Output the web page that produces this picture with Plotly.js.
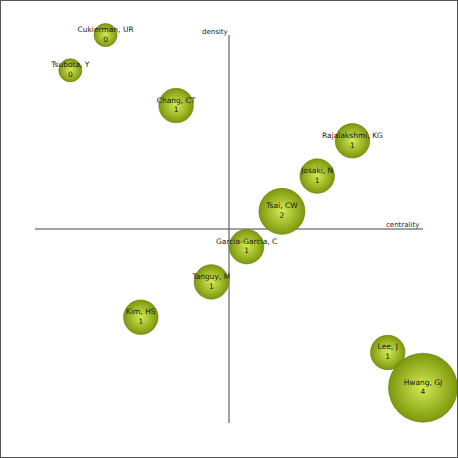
<!DOCTYPE html>
<html>
<head>
<meta charset="utf-8">
<script src="https://cdn.plot.ly/plotly-3.0.1.min.js"></script>
<style>
html,body{margin:0;padding:0;background:#fff;}
#wrap{position:relative;width:458px;height:458px;}
#chart{width:458px;height:458px;}
#frame{position:absolute;left:0;top:0;width:456px;height:456px;border:1px solid #555;pointer-events:none;}
</style>
</head>
<body>
<div id="wrap"><div id="chart"></div><div id="frame"></div></div>
<script>
// Cluster labels
const clusterNames = ['Cukierman, UR','Tsubota, Y','Chang, CT','Rajalakshmi, KG','Josaki, N','Tsai, CW','Garcia-Garcia, C','Tanguy, M','Kim, HS','Lee, J','Hwang, GJ'];
// Rank-based centrality and density (rank / n)
const centrality = [0.1818, 0.0909, 0.3636, 0.8182, 0.7273, 0.6364, 0.5455, 0.4545, 0.2727, 0.9091, 1.0];
const density    = [1.0, 0.9091, 0.8182, 0.7273, 0.6364, 0.5455, 0.4545, 0.3636, 0.2727, 0.1818, 0.0909];
// Number shown under each label
const clusterCount = [0, 0, 1, 1, 1, 2, 1, 1, 1, 1, 4];
// Bubble size (frequency)
const clusterFreq = [2, 2, 3, 3, 3, 4, 3, 3, 3, 3, 6];
// Quadrant split value
const midValue = 0.5;

const labels = clusterNames.map((n, i) => n + '<br>' + clusterCount[i]);

const trace = {
  type: 'scatter',
  mode: 'markers+text',
  x: centrality,
  y: density,
  text: labels,
  textposition: 'middle center',
  textfont: {family: 'DejaVu Sans', size: 7.5, color: '#1a1a1a'},
  cliponaxis: false,
  hoverinfo: 'text',
  marker: {
    size: clusterFreq,
    sizemode: 'diameter',
    sizeref: 1/11.5,
    color: '#7c980c',
    gradient: {type: 'radial', color: '#d4ea55'},
    line: {width: 0.6, color: '#647a08'},
    opacity: 1
  },
  showlegend: false
};

const layout = {
  width: 458, height: 458,
  margin: {l: 35, r: 35, t: 35, b: 35, pad: 0},
  paper_bgcolor: '#fff', plot_bgcolor: '#fff',
  xaxis: {range: [0, 1], showgrid: false, zeroline: false, showticklabels: false, showline: false, ticks: '', fixedrange: true},
  yaxis: {range: [0, 1], showgrid: false, zeroline: false, showticklabels: false, showline: false, ticks: '', fixedrange: true},
  shapes: [
    {type: 'line', xref: 'x', yref: 'y', x0: 0, x1: 1, y0: midValue, y1: midValue, line: {color: '#444', width: 1}, layer: 'below'},
    {type: 'line', xref: 'x', yref: 'y', x0: midValue, x1: midValue, y0: 0, y1: 1, line: {color: '#444', width: 1}, layer: 'below'}
  ],
  annotations: [
    {text: 'density', x: midValue, y: 1, xref: 'x', yref: 'y', xanchor: 'right', yanchor: 'bottom', showarrow: false, font: {family: 'DejaVu Sans', size: 7, color: '#222'}, borderpad: 0, yshift: -2},
    {text: 'centrality', x: 1, y: midValue, xref: 'x', yref: 'y', xanchor: 'right', yanchor: 'bottom', showarrow: false, font: {family: 'DejaVu Sans', size: 7, color: '#222'}, borderpad: 0, xshift: -3, yshift: -1}
  ]
};

Plotly.newPlot('chart', [trace], layout, {displayModeBar: false, staticPlot: true});
</script>
</body>
</html>
